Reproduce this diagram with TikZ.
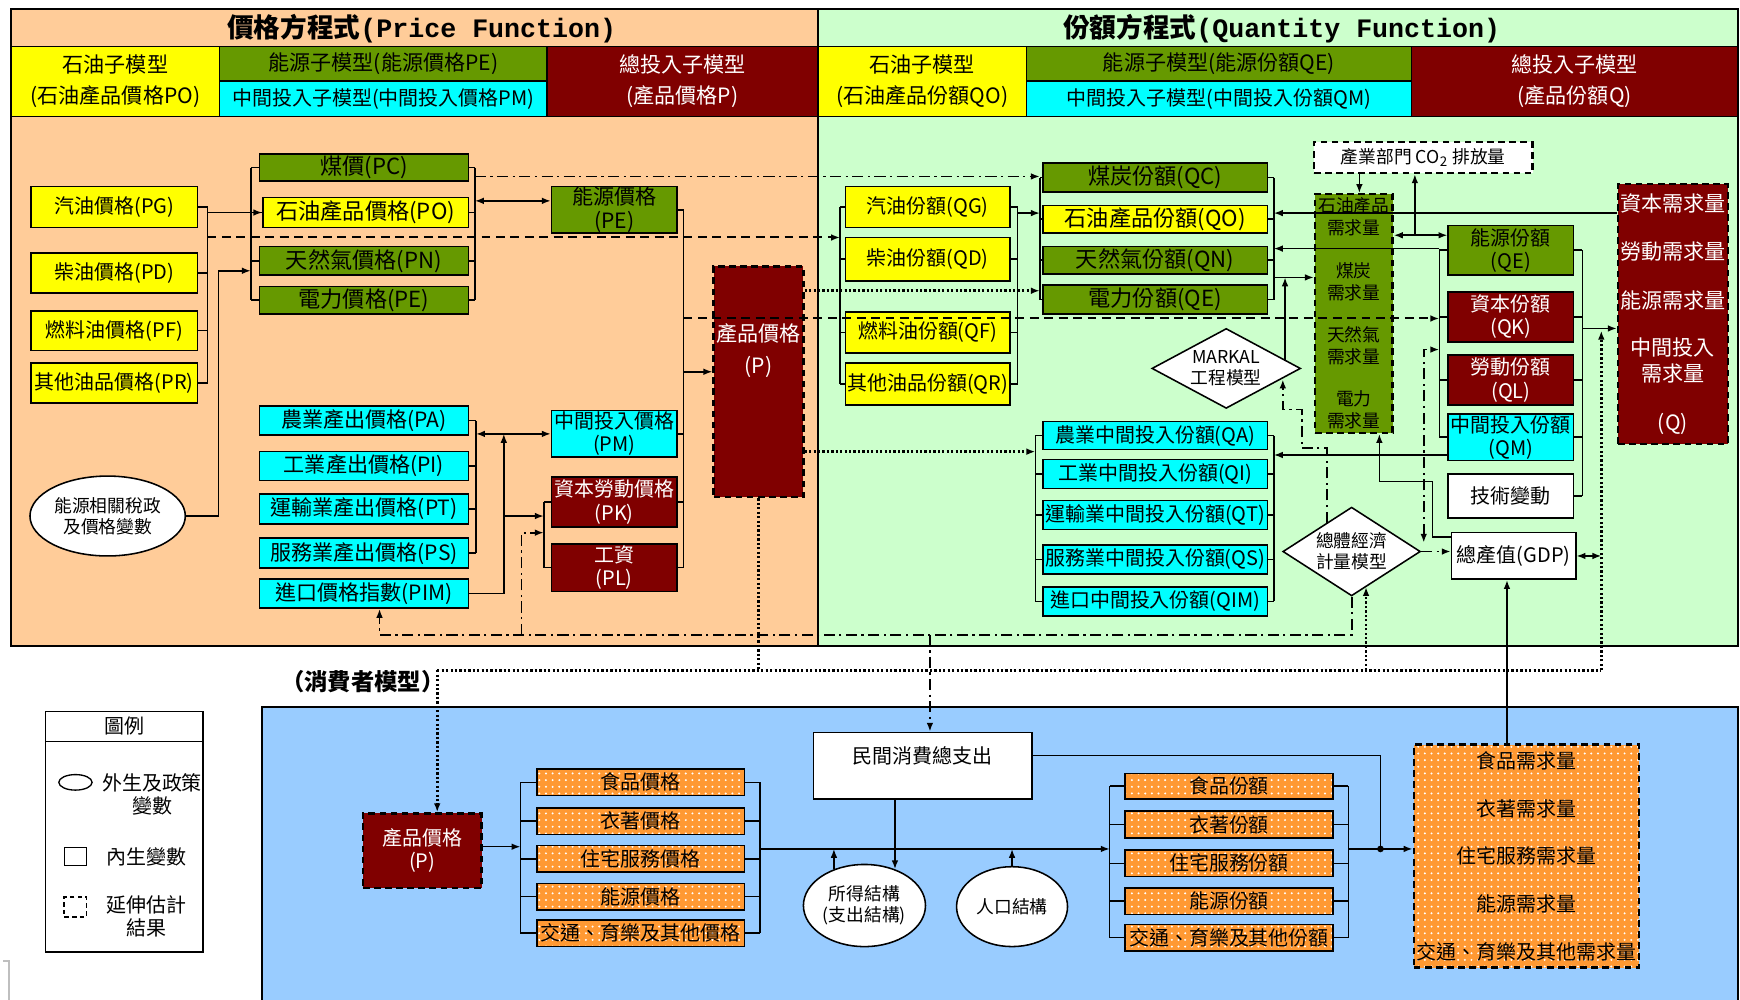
\documentclass[tikz,border=0pt]{standalone}
\usepackage{fontspec}
\setmainfont{Noto Sans CJK TC}
\newfontfamily\monof{Liberation Mono}
\usetikzlibrary{arrows.meta,shapes.geometric,patterns}
\definecolor{peach}{HTML}{FFCC99}
\definecolor{lgreen}{HTML}{CCFFCC}
\definecolor{oliveG}{HTML}{669900}
\definecolor{dred}{HTML}{800000}
\definecolor{skyb}{HTML}{99CCFF}
\definecolor{orgC}{HTML}{FF9933}
\definecolor{cyanC}{HTML}{00FFFF}
\definecolor{yelC}{HTML}{FFFF00}
\newcommand\bx[7]{\node[#2, inner sep=0pt, minimum width={(#5-#3)*0.5pt}, minimum height={(#6-#4)*0.5pt}] (#1) at ({(#3+#5)/2},{(#4+#6)/2}) {#7};}
\tikzset{
 boxb/.style={draw=black, line width=0.7pt},
 yb/.style={boxb, fill=yelC},
 gb/.style={boxb, fill=oliveG},
 cb/.style={boxb, fill=cyanC},
 rb/.style={boxb, fill=dred, text=white},
 wb/.style={boxb, fill=white},
 ob/.style={boxb, preaction={fill=orgC}, pattern=dots, pattern color=white},
 dbox/.style={dash pattern=on 3pt off 2pt, line width=1.1pt},
 f8/.style={font=\fontsize{8}{9.5}\selectfont},
 f9/.style={font=\fontsize{9}{10.5}\selectfont},
 f95/.style={font=\fontsize{9.5}{11}\selectfont},
 f10/.style={font=\fontsize{10}{12}\selectfont},
 hd/.style={font=\fontsize{9.5}{14}\selectfont, align=center},
 ln/.style={line width=0.7pt},
 arr/.style={ln,-{Latex[length=4pt,width=3pt]}},
 darr/.style={ln,{Latex[length=4pt,width=3pt]}-{Latex[length=4pt,width=3pt]}},
 dsh/.style={dash pattern=on 4pt off 2.5pt, line width=0.9pt},
 dt/.style={dash pattern=on 1pt off 1pt, line width=1.2pt},
 dd/.style={dash pattern=on 5pt off 2pt on 1pt off 2pt, line width=0.8pt},
}
\begin{document}
\begin{tikzpicture}[x=0.5pt,y=-0.5pt]
\useasboundingbox (0,0) rectangle (1568,901);
\fill[white] (0,0) rectangle (1568,901);

% ---------- panels ----------
\bx{LP}{boxb,line width=1pt,fill=peach}{10}{8}{737}{582}{}
\bx{RP}{boxb,line width=1pt,fill=lgreen}{737}{8}{1566}{582}{}
\bx{BP}{boxb,line width=0.8pt,fill=skyb}{236}{637}{1566}{905}{}

\node[font=\fontsize{12}{14}\selectfont\bfseries] (T1) at (380,26) {價格方程式{\monof\bfseries(Price Function)}};
\node[font=\fontsize{12}{14}\selectfont\bfseries] (T2) at (1155,26) {份額方程式{\monof\bfseries(Quantity Function)}};

\bx{H1}{yb,hd}{10}{42}{198}{105}{石油子模型\\(石油產品價格PO)}
\bx{H2}{gb,hd}{198}{42}{493}{73}{能源子模型(能源價格PE)}
\bx{H3}{cb,hd,font=\fontsize{9}{12}\selectfont}{198}{73}{493}{105}{中間投入子模型(中間投入價格PM)}
\bx{H4}{rb,hd}{493}{42}{737}{105}{總投入子模型\\(產品價格P)}
\bx{H5}{yb,hd}{737}{42}{925}{105}{石油子模型\\(石油產品份額QO)}
\bx{H6}{gb,hd}{925}{42}{1272}{73}{能源子模型(能源份額QE)}
\bx{H7}{cb,hd,font=\fontsize{9}{12}\selectfont}{925}{73}{1272}{105}{中間投入子模型(中間投入份額QM)}
\bx{H8}{rb,hd}{1272}{42}{1566}{105}{總投入子模型\\(產品份額Q)}

% ---------- coordinates ----------
\coordinate (oR) at (187,0); \coordinate (eL) at (226,0); \coordinate (eR) at (428,0);
\coordinate (elx) at (197,0); \coordinate (mR) at (616,0); \coordinate (aR) at (429,0);
\coordinate (imx) at (454,0); \coordinate (pmL) at (490,0); \coordinate (ddx1) at (470,0);
\coordinate (pimx) at (342,0); \coordinate (cex) at (838,0); \coordinate (cpx) at (394,0);
\coordinate (dmx) at (1231,0); \coordinate (qx) at (1443,0); \coordinate (qL) at (757,0);
\coordinate (qR) at (917,0); \coordinate (cL) at (937,0); \coordinate (cR) at (1148,0);
\coordinate (aL) at (933,0); \coordinate (aRr) at (1148,0); \coordinate (qeL) at (1297,0);
\coordinate (qeR) at (1426,0); \coordinate (mkx) at (1158,0); \coordinate (cox) at (1275,0);
\coordinate (co2x) at (1225,0); \coordinate (gx) at (1291,0); \coordinate (cx2) at (1243,0);
\coordinate (ddx2) at (1283,0); \coordinate (dbx) at (1358,0); \coordinate (cpL) at (469,0);
\coordinate (cpR) at (685,0); \coordinate (sL) at (1000,0); \coordinate (sR) at (1215,0);
\coordinate (jx) at (1244,0);
\foreach \v in {159,181,192,212,214,224,244,250,262,287,296,298,315,325,335,391,407,410,434,465,480,484,489,529,572,604,681,763,765}
  {\coordinate (y\v) at (0,\v);}

% ---------- price panel ----------
\bx{PG}{yb,f9}{28}{168}{178}{205}{汽油價格(PG)}
\bx{PD}{yb,f9}{28}{228}{178}{264}{柴油價格(PD)}
\bx{PF}{yb,f9}{28}{280}{178}{316}{燃料油價格(PF)}
\bx{PR}{yb,f9}{28}{327}{178}{363}{其他油品價格(PR)}
\bx{PC}{gb,f10}{234}{139}{422}{163}{煤價(PC)}
\bx{PO}{yb,f10}{237}{178}{422}{205}{石油產品價格(PO)}
\bx{PN}{gb,f10}{234}{222}{422}{248}{天然氣價格(PN)}
\bx{PEl}{gb,f10}{234}{258}{422}{283}{電力價格(PE)}
\bx{PEg}{gb,f95,align=center}{497}{168}{610}{210}{能源價格\\(PE)}
\bx{P}{rb,dbox,f95}{643}{240}{724}{448}{\raisebox{30pt}{\shortstack{產品價格\\[3pt](P)}}}
\bx{PA}{cb,f95}{234}{366}{422}{392}{農業產出價格(PA)}
\bx{PI}{cb,f95}{234}{407}{422}{433}{工業產出價格(PI)}
\bx{PT}{cb,f95}{234}{445}{422}{472}{運輸業產出價格(PT)}
\bx{PS}{cb,f95}{234}{485}{422}{512}{服務業產出價格(PS)}
\bx{PIM}{cb,f95}{234}{522}{422}{548}{進口價格指數(PIM)}
\bx{PM}{cb,f9,align=center}{497}{370}{610}{412}{中間投入價格\\(PM)}
\bx{PK}{rb,f9,align=center}{497}{430}{610}{475}{資本勞動價格\\(PK)}
\bx{PL}{rb,f9,align=center}{497}{490}{610}{533}{工資\\(PL)}
\node[ellipse, boxb, fill=white, minimum width=70pt, minimum height=36pt, inner sep=0pt, f8, align=center] (EL) at (97,465) {能源相關稅政\\及價格變數};

% ---------- quantity panel ----------
\bx{QG}{yb,f9}{762}{168}{910}{205}{汽油份額(QG)}
\bx{QD}{yb,f9}{762}{214}{910}{253}{柴油份額(QD)}
\bx{QF}{yb,f9}{762}{281}{910}{318}{燃料油份額(QF)}
\bx{QR}{yb,f9}{762}{327}{910}{365}{其他油品份額(QR)}
\bx{QC}{gb,f10}{940}{147}{1142}{173}{煤炭份額(QC)}
\bx{QO}{yb,f10}{940}{185}{1142}{210}{石油產品份額(QO)}
\bx{QN}{gb,f10}{940}{222}{1142}{247}{天然氣份額(QN)}
\bx{QEl}{gb,f10}{940}{257}{1142}{283}{電力份額(QE)}
\bx{QA}{cb,f9}{940}{380}{1142}{405}{農業中間投入份額(QA)}
\bx{QI}{cb,f9}{940}{414}{1142}{440}{工業中間投入份額(QI)}
\bx{QT}{cb,f9}{940}{451}{1142}{477}{運輸業中間投入份額(QT)}
\bx{QS}{cb,f9}{940}{491}{1142}{517}{服務業中間投入份額(QS)}
\bx{QIM}{cb,f9}{940}{529}{1142}{555}{進口中間投入份額(QIM)}
\bx{CO}{wb,dbox,f8}{1184}{128}{1381}{156}{產業部門 CO\textsubscript{2} 排放量}
\bx{COL}{gb,dbox,font=\fontsize{8}{10}\selectfont,align=center}{1185}{175}{1255}{390}{石油產品\\需求量\\[9pt]煤炭\\需求量\\[9pt]天然氣\\需求量\\[9pt]電力\\需求量}
\node[diamond, boxb, fill=white, aspect=1.8, inner sep=0pt, minimum width=67pt, minimum height=36pt, f8, align=center] (MK) at (1105,332) {MARKAL\\工程模型};
\bx{QE}{gb,f9,align=center}{1305}{203}{1418}{248}{能源份額\\(QE)}
\bx{QK}{rb,f9,align=center}{1305}{263}{1418}{308}{資本份額\\(QK)}
\bx{QL}{rb,f9,align=center}{1305}{320}{1418}{365}{勞動份額\\(QL)}
\bx{QM}{cb,f9,align=center}{1305}{373}{1418}{415}{中間投入份額\\(QM)}
\bx{TC}{wb,f9}{1305}{427}{1418}{467}{技術變動}
\bx{Q}{rb,dbox,font=\fontsize{9.5}{12}\selectfont,align=center}{1458}{166}{1557}{400}{資本需求量\\[10pt]勞動需求量\\[10pt]能源需求量\\[9pt]中間投入\\需求量\\[10pt](Q)}
\node[diamond, boxb, fill=white, aspect=1.6, inner sep=0pt, minimum width=62pt, minimum height=40pt, f8, align=center] (DM) at (1218,497) {總體經濟\\計量模型};
\bx{GDP}{wb,f9}{1308}{480}{1420}{522}{總產值(GDP)}

% ---------- consumer panel ----------
\node[font=\fontsize{10.5}{12}\selectfont\bfseries] (CM) at (327,614) {（消費者模型）};
\bx{LGh}{wb,f9}{41}{641}{183}{668}{圖例}
\bx{LGb}{wb}{41}{668}{183}{858}{}
\node[ellipse, draw, line width=0.6pt, minimum width=15pt, minimum height=7pt, inner sep=0pt] (Le) at (68,705) {};
\node[f9, align=center] (Let) at (137,716) {外生及政策\\變數};
\node[draw, line width=0.6pt, minimum width=10pt, minimum height=8pt, inner sep=0pt] (Lr) at (68,772) {};
\node[f9] (Lrt) at (132,772) {內生變數};
\node[draw, dash pattern=on 2pt off 1.5pt, line width=0.8pt, minimum width=10pt, minimum height=9pt, inner sep=0pt] (Ld) at (68,817) {};
\node[f9, align=center] (Ldt) at (132,826) {延伸估計\\結果};
\draw[gray!50, line width=0.6pt] (3,866) -- (8,866) -- (8,901);

\bx{CP}{rb,dbox,f9,align=center}{327}{733}{434}{800}{產品價格\\(P)}
\bx{C1}{ob,f9}{484}{693}{671}{717}{食品價格}
\bx{C2}{ob,f9}{484}{728}{671}{752}{衣著價格}
\bx{C3}{ob,f9}{484}{762}{671}{786}{住宅服務價格}
\bx{C4}{ob,f9}{484}{796}{671}{820}{能源價格}
\bx{C5}{ob,f9}{484}{829}{671}{853}{交通、育樂及其他價格}
\bx{CE}{wb,f9}{733}{660}{930}{720}{\raisebox{10pt}{民間消費總支出}}
\node[ellipse, boxb, fill=white, minimum width=55pt, minimum height=37pt, inner sep=0pt, f8, align=center] (IS) at (779,816) {所得結構\\(支出結構)};
\node[ellipse, boxb, fill=white, minimum width=50pt, minimum height=36pt, inner sep=0pt, f8] (PP) at (912,817) {人口結構};
\bx{S1}{ob,f9}{1014}{697}{1201}{720}{食品份額}
\bx{S2}{ob,f9}{1014}{731}{1201}{755}{衣著份額}
\bx{S3}{ob,f9}{1014}{766}{1201}{790}{住宅服務份額}
\bx{S4}{ob,f9}{1014}{800}{1201}{824}{能源份額}
\bx{S5}{ob,f9}{1014}{833}{1201}{857}{交通、育樂及其他份額}
\bx{DB}{ob,dbox,font=\fontsize{9}{21.5}\selectfont,align=center}{1274}{671}{1477}{872}{食品需求量\\衣著需求量\\住宅服務需求量\\能源需求量\\交通、育樂及其他需求量}

% ---------- connectors: price panel ----------
\foreach \n in {PG,PD,PF,PR} \draw[ln] (\n.east) -- (\n.east -| oR);
\draw[ln] (PG.east -| oR) -- (PR.east -| oR);
\foreach \n in {PC,PO,PN,PEl} {\draw[ln] (\n.west) -- (\n.west -| eL); \draw[ln] (\n.east) -- (\n.east -| eR);}
\draw[ln] (PC.west -| eL) -- (PEl.west -| eL);
\draw[ln] (PC.east -| eR) -- (PEl.east -| eR);
\draw[arr] (PO.west -| oR) -- (PO.west);
\draw[dsh,-{Latex[length=4pt,width=3pt]}] (y214 -| oR) -- (y214 -| qL);
\draw[arr] (EL.east) -- (EL.east -| elx) -- (elx |- y244) -- (y244 -| eL);
\draw[darr] (y181 -| eR) -- (y181 -| PEg.west);
\draw[dd,-{Latex[length=4pt,width=3pt]}] (y159 -| eR) -- (y159 -| cL);
\foreach \n in {PEg,PM,PK,PL} \draw[ln] (\n.east) -- (\n.east -| mR);
\draw[ln] (PEg.east -| mR) -- (PL.east -| mR);
\draw[arr] (y335 -| mR) -- (y335 -| P.west);
\foreach \n in {PA,PI,PT,PS} \draw[ln] (\n.east) -- (\n.east -| aR);
\draw[ln] (PA.east -| aR) -- (PS.east -| aR);
\draw[darr] (y391 -| aR) -- (y391 -| PM.west);
\draw[arr] (PIM.east) -| (imx |- y391);
\draw[arr] (imx |- y465) -- (y465 -| pmL);
\foreach \n in {PK,PL} \draw[ln] (\n.west) -- (\n.west -| pmL);
\draw[ln] (PK.west -| pmL) -- (PL.west -| pmL);
\draw[dd,-{Latex[length=4pt,width=3pt]}] (ddx1 |- y572) -- (ddx1 |- y480) -- (y480 -| pmL);
\draw[dd,-{Latex[length=4pt,width=3pt]}] (DM.south) |- (pimx |- y572) -- (pimx |- PIM.south);
\draw[dd,-{Latex[length=4pt,width=3pt]}] (cex |- y572) -- (cex |- CE.north);

% long lines from total-input price
\draw[dsh,-{Latex[length=4pt,width=3pt]}] (y287 -| mR) -- (y287 -| qeL);
\draw[dt,-{Latex[length=4pt,width=3pt]}] (y262 -| P.east) -- (y262 -| cL);
\draw[dt,-{Latex[length=4pt,width=3pt]}] (y407 -| P.east) -- (y407 -| aL);
\draw[dt] (P.south) -- (P.south |- y604);
\draw[dt] (y604 -| cpx) -- (y604 -| qx);
\draw[dt,-{Latex[length=4pt,width=3pt]}] (y604 -| cpx) -- (cpx |- CP.north);
\draw[dt,-{Latex[length=4pt,width=3pt]}] (y604 -| dmx) -- (dmx |- y529);
\draw[dt,-{Latex[length=4pt,width=3pt]}] (y604 -| qx) -- (qx |- y298);

% ---------- connectors: quantity panel ----------
\foreach \n in {QG,QD,QF,QR} {\draw[ln] (\n.west) -- (\n.west -| qL); \draw[ln] (\n.east) -- (\n.east -| qR);}
\draw[ln] (QG.west -| qL) -- (QR.west -| qL);
\draw[ln] (QG.east -| qR) -- (QR.east -| qR);
\draw[arr] (y192 -| qR) -- (y192 -| cL);
\foreach \n in {QC,QO,QN,QEl} {\draw[ln] (\n.west) -- (\n.west -| cL); \draw[ln] (\n.east) -- (\n.east -| cR);}
\draw[ln] (QC.west -| cL) -- (QEl.west -| cL);
\draw[ln] (QC.east -| cR) -- (QEl.east -| cR);
\foreach \n in {QA,QI,QT,QS,QIM} {\draw[ln] (\n.west) -- (\n.west -| aL); \draw[ln] (\n.east) -- (\n.east -| aRr);}
\draw[ln] (QA.west -| aL) -- (QIM.west -| aL);
\draw[ln] (QA.east -| aRr) -- (QIM.east -| aRr);
\draw[arr] (y192 -| Q.west) -- (y192 -| cR);
\draw[arr] (y224 -| qeL) -- (y224 -| cR);
\draw[arr] (y250 -| cR) -- (y250 -| COL.west);
\draw[arr] (mkx |- y325) -- (mkx |- y250);
\draw[darr] (y212 -| COL.east) -- (y212 -| QE.west);
\draw[arr] (cox |- y212) -- (cox |- CO.south);
\draw[arr] (co2x |- CO.south) -- (co2x |- COL.north);
\foreach \n in {QE,QK,QL,QM} \draw[ln] (\n.west) -- (\n.west -| qeL);
\draw[ln] (QE.west -| qeL) -- (QM.west -| qeL);
\foreach \n in {QE,QK,QL,QM,TC} \draw[ln] (\n.east) -- (\n.east -| qeR);
\draw[ln] (QE.east -| qeR) -- (TC.east -| qeR);
\draw[arr] (y296 -| qeR) -- (y296 -| Q.west);
\draw[arr] (y410 -| QM.west) -- (y410 -| aRr);
\draw[arr] (y484 -| GDP.west) -- (gx |- y484) -- (gx |- y434) -- (cx2 |- y434) -- (cx2 |- COL.south);
\draw[dd,-{Latex[length=4pt,width=3pt]}] (DM.east) -- (DM.east -| GDP.west);
\draw[dd,{Latex[length=4pt,width=3pt]}-{Latex[length=4pt,width=3pt]}] (ddx2 |- y489) -- (ddx2 |- y315) -- (y315 -| qeL);
\coordinate (mkA) at (1196,471);
\draw[dd,-{Latex[length=4pt,width=3pt]}] (mkA) -- (1196,404) -- (1173,404) -- (1173,369) -- (1156,369) -- (1156,342);
\draw[darr] (GDP.east) -- (GDP.east -| qx);
\draw[arr] (dbx |- DB.north) -- (dbx |- GDP.south);

% ---------- connectors: consumer panel ----------
\draw[arr] (y763 -| CP.east) -- (y763 -| cpL);
\foreach \n in {C1,C2,C3,C4,C5} {\draw[ln] (\n.west) -- (\n.west -| cpL); \draw[ln] (\n.east) -- (\n.east -| cpR);}
\draw[ln] (C1.west -| cpL) -- (C5.west -| cpL);
\draw[ln] (C1.east -| cpR) -- (C5.east -| cpR);
\draw[arr] (y765 -| cpR) -- (y765 -| sL);
\draw[arr] (IS.130) -- (IS.130 |- y765);
\draw[arr] (PP.north) -- (PP.north |- y765);
\draw[arr] (IS.50 |- CE.south) -- (IS.50);
\foreach \n in {S1,S2,S3,S4,S5} {\draw[ln] (\n.west) -- (\n.west -| sL); \draw[ln] (\n.east) -- (\n.east -| sR);}
\draw[ln] (S1.west -| sL) -- (S5.west -| sL);
\draw[ln] (S1.east -| sR) -- (S5.east -| sR);
\draw[ln] (y681 -| CE.east) -| (jx |- y765);
\fill (jx |- y765) circle (1.5pt);
\draw[arr] (y765 -| sR) -- (y765 -| DB.west);
\end{tikzpicture}
\end{document}
